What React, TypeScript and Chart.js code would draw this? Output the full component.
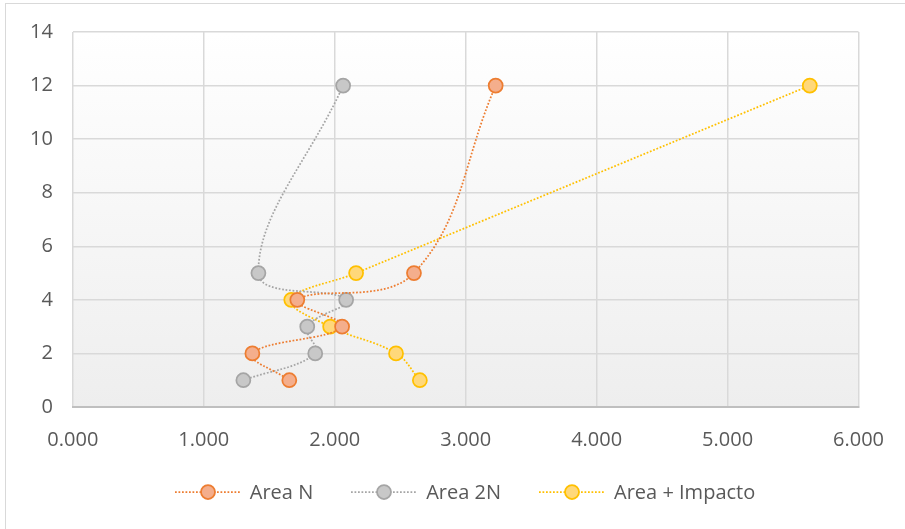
import React, { useEffect, useRef } from "react";
import { Chart, registerables } from "chart.js";

Chart.register(...registerables);

const seriesNames = ["Area N", "Area 2N", "Area + Impacto"];
const yLevels = [1, 2, 3, 4, 5, 12];
const areaNX = [1.653, 1.371, 2.056, 1.714, 2.605, 3.229];
const area2NX = [1.302, 1.851, 1.79, 2.087, 1.417, 2.064];
const areaImpX = [2.65, 2.468, 1.965, 1.668, 2.163, 5.628];
const xTickValues = [0, 1, 2, 3, 4, 5, 6];
const yTickValues = [0, 2, 4, 6, 8, 10, 12, 14];

const lineColors = ["#ED7D31", "#A5A5A5", "#FFC000"];
const fillColors = ["#F4AE8C", "#C8C8C8", "#FFD87A"];

const FONT = "'Open Sans', 'Liberation Sans', sans-serif";

const plotBg = {
  id: "plotBg",
  beforeDraw(chart: any) {
    const { ctx, chartArea } = chart;
    if (!chartArea) return;
    const g = ctx.createLinearGradient(0, chartArea.top, 0, chartArea.bottom);
    g.addColorStop(0, "#FFFFFF");
    g.addColorStop(1, "#EEEEEE");
    ctx.save();
    ctx.fillStyle = g;
    ctx.fillRect(chartArea.left, chartArea.top, chartArea.right - chartArea.left, chartArea.bottom - chartArea.top);
    ctx.restore();
  },
};

function LegendSymbol({ line, fill }: { line: string; fill: string }) {
  return (
    <svg width={66} height={18} style={{ display: "block" }}>
      <line x1={0} y1={9} x2={66} y2={9} stroke={line} strokeWidth={1.75} strokeDasharray="1.75 1.75" />
      <circle cx={33} cy={9} r={7} fill={fill} stroke={line} strokeWidth={1.75} />
    </svg>
  );
}

export default function App() {
  const ref = useRef<HTMLCanvasElement | null>(null);

  useEffect(() => {
    if (!ref.current) return;
    const xs = [areaNX, area2NX, areaImpX];
    const chart = new Chart(ref.current, {
      type: "scatter",
      data: {
        datasets: seriesNames.map((name, i) => ({
          label: name,
          data: yLevels.map((y, j) => ({ x: xs[i][j], y })),
          showLine: true,
          borderColor: lineColors[i],
          backgroundColor: fillColors[i],
          borderWidth: 1.75,
          borderDash: [1.75, 1.75],
          tension: 0.4,
          pointStyle: "circle",
          pointRadius: 7,
          pointHoverRadius: 7,
          pointBorderWidth: 1.75,
          pointBorderColor: lineColors[i],
          pointBackgroundColor: fillColors[i],
        })) as any,
      },
      options: {
        animation: false,
        responsive: false,
        maintainAspectRatio: false,
        layout: { padding: { left: 10, right: 44, top: 24, bottom: 56 } },
        scales: {
          x: {
            type: "linear",
            min: 0,
            max: 6,
            afterBuildTicks: (axis: any) => {
              axis.ticks = xTickValues.map((v) => ({ value: v }));
            },
            ticks: {
              padding: 21,
              color: "#595959",
              font: { family: FONT, size: 20 },
              callback: (v: any) => Number(v).toFixed(3),
            },
            grid: { color: "#D9D9D9", lineWidth: 1.5, drawTicks: false },
            border: { color: "#BFBFBF", width: 2 },
          },
          y: {
            type: "linear",
            min: 0,
            max: 14,
            afterBuildTicks: (axis: any) => {
              axis.ticks = yTickValues.map((v) => ({ value: v }));
            },
            ticks: {
              padding: 20,
              color: "#595959",
              font: { family: FONT, size: 20 },
            },
            grid: { color: "#D9D9D9", lineWidth: 1.5, drawTicks: false },
            border: { display: false },
          },
        },
        plugins: {
          legend: { display: false },
          tooltip: { enabled: false },
          title: { display: false },
        },
      },
      plugins: [plotBg],
    });
    return () => chart.destroy();
  }, []);

  return (
    <div style={{ position: "fixed", left: 0, top: 0, width: 905, height: 529, background: "#FFFFFF", overflow: "hidden" }}>
      <div
        style={{
          position: "absolute",
          left: 5,
          top: 3,
          width: 920,
          height: 540,
          border: "1px solid #D9D9D9",
        }}
      />
      <canvas ref={ref} width={905} height={529} style={{ position: "absolute", left: 0, top: 0, width: 905, height: 529 }} />
      <div
        style={{
          position: "absolute",
          left: 0,
          top: 478,
          width: 930,
          height: 28,
          display: "flex",
          justifyContent: "center",
          alignItems: "center",
          fontFamily: FONT,
          fontSize: 20,
          color: "#595959",
          lineHeight: "28px",
          whiteSpace: "nowrap",
        }}
      >
        {seriesNames.map((name, i) => (
          <div key={name} style={{ display: "flex", alignItems: "center", marginLeft: i === 0 ? 0 : 38 }}>
            <LegendSymbol line={lineColors[i]} fill={fillColors[i]} />
            <span style={{ marginLeft: 9 }}>{name}</span>
          </div>
        ))}
      </div>
    </div>
  );
}
